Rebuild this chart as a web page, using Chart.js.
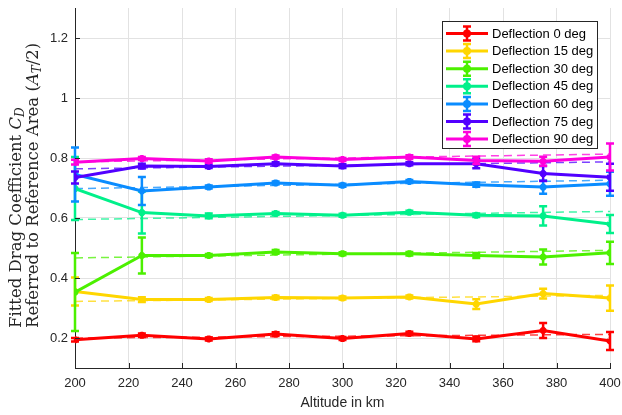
<!DOCTYPE html>
<html>
<head>
<meta charset="utf-8">
<script src="https://cdn.jsdelivr.net/npm/chart.js@4.4.0/dist/chart.umd.min.js"></script>
<style>
  html, body { margin: 0; padding: 0; background: #ffffff; }
  #chart { display: block; }
</style>
</head>
<body>
<canvas id="chart" width="622" height="415"></canvas>
<script>
// altitude (km) and fitted drag coefficient per deflection angle
const altitudes = [200, 225, 250, 275, 300, 325, 350, 375, 400];

const cd0  = [0.194, 0.209, 0.197, 0.213, 0.198, 0.215, 0.197, 0.225, 0.190];
const cd15 = [0.355, 0.328, 0.328, 0.335, 0.333, 0.337, 0.313, 0.348, 0.333];
const cd30 = [0.353, 0.475, 0.475, 0.487, 0.481, 0.481, 0.475, 0.470, 0.484];
const cd45 = [0.698, 0.618, 0.607, 0.615, 0.609, 0.619, 0.609, 0.607, 0.580];
const cd60 = [0.745, 0.690, 0.703, 0.717, 0.709, 0.722, 0.711, 0.703, 0.714];
const cd75 = [0.735, 0.773, 0.772, 0.781, 0.773, 0.781, 0.781, 0.748, 0.736];
const cd90 = [0.786, 0.798, 0.790, 0.803, 0.795, 0.803, 0.792, 0.789, 0.803];

// error bar half-lengths
const err0  = [0.006, 0.006, 0.005, 0.006, 0.005, 0.006, 0.008, 0.025, 0.030];
const err15 = [0.047, 0.008, 0.005, 0.006, 0.005, 0.005, 0.016, 0.016, 0.042];
const err30 = [0.130, 0.060, 0.005, 0.006, 0.005, 0.006, 0.008, 0.025, 0.037];
const err45 = [0.105, 0.070, 0.008, 0.005, 0.005, 0.005, 0.006, 0.032, 0.030];
const err60 = [0.090, 0.047, 0.005, 0.005, 0.005, 0.005, 0.007, 0.022, 0.040];
const err75 = [0.020, 0.008, 0.005, 0.005, 0.006, 0.005, 0.015, 0.025, 0.045];
const err90 = [0.008, 0.005, 0.006, 0.005, 0.005, 0.006, 0.012, 0.015, 0.045];

// dashed fit lines, value at 200 km and at 400 km
const fitStart = [0.200, 0.322, 0.467, 0.595, 0.698, 0.764, 0.787];
const fitEnd   = [0.212, 0.342, 0.492, 0.622, 0.726, 0.787, 0.813];

const seriesNames = ['Deflection 0 deg', 'Deflection 15 deg', 'Deflection 30 deg', 'Deflection 45 deg',
                     'Deflection 60 deg', 'Deflection 75 deg', 'Deflection 90 deg'];
const seriesValues = [cd0, cd15, cd30, cd45, cd60, cd75, cd90];
const seriesErrors = [err0, err15, err30, err45, err60, err75, err90];
const colors = ['#ff0000', '#ffd600', '#4cf000', '#00f08a', '#0a8cff', '#5200ff', '#ff00dc'];

const xTicks = [200, 220, 240, 260, 280, 300, 320, 340, 360, 380, 400];
const yTicks = [0.2, 0.4, 0.6, 0.8, 1.0, 1.2];
const yTickLabels = ['0.2', '0.4', '0.6', '0.8', '1', '1.2'];

const axisColor = '#262626';
const sansFont = '"Liberation Sans", Arial, sans-serif';
const serifFont = '"DejaVu Serif", serif';

function fadeColor(hex, a) {
    const n = parseInt(hex.slice(1), 16);
    return 'rgba(' + (n >> 16) + ',' + ((n >> 8) & 255) + ',' + (n & 255) + ',' + a + ')';
}

const datasets = [];
seriesValues.forEach(function (vals, k) {
    datasets.push({
        label: seriesNames[k],
        data: altitudes.map((a, i) => ({ x: a, y: vals[i] })),
        errors: seriesErrors[k],
        borderColor: colors[k],
        backgroundColor: colors[k],
        borderWidth: 3,
        pointStyle: 'star',
        pointRadius: 3.5,
        pointBorderWidth: 2.5,
        pointBorderColor: colors[k],
        pointBackgroundColor: colors[k],
        tension: 0,
        order: 10 - k
    });
});
fitStart.forEach(function (v, k) {
    datasets.push({
        label: 'fit',
        data: [{ x: altitudes[0], y: v }, { x: altitudes[altitudes.length - 1], y: fitEnd[k] }],
        borderColor: fadeColor(colors[k], 0.75),
        borderWidth: 1.5,
        borderDash: [8, 5],
        pointRadius: 0,
        order: 100
    });
});

// vertical error bars with caps
const errorBars = {
    id: 'errorBars',
    afterDatasetDraw(chart, args) {
        const ds = chart.data.datasets[args.index];
        if (!ds.errors) return;
        const ctx = chart.ctx;
        const y = chart.scales.y;
        ctx.save();
        ctx.strokeStyle = ds.borderColor;
        ctx.lineWidth = 2.5;
        args.meta.data.forEach(function (pt, i) {
            const v = ds.data[i].y, e = ds.errors[i];
            const top = y.getPixelForValue(v + e);
            const bot = y.getPixelForValue(v - e);
            ctx.beginPath();
            ctx.moveTo(pt.x, top); ctx.lineTo(pt.x, bot);
            ctx.moveTo(pt.x - 4, top); ctx.lineTo(pt.x + 4, top);
            ctx.moveTo(pt.x - 4, bot); ctx.lineTo(pt.x + 4, bot);
            ctx.stroke();
        });
        ctx.restore();
    }
};

function drawRich(ctx, parts, x0, y0) {
    let x = x0;
    parts.forEach(function (p) {
        ctx.font = p.font;
        ctx.fillText(p.t, x, y0 + (p.dy || 0));
        x += ctx.measureText(p.t).width;
    });
}

// inward ticks, axis titles and legend box
const decorations = {
    id: 'decorations',
    afterDraw(chart) {
        const ctx = chart.ctx;
        const area = chart.chartArea;
        const xs = chart.scales.x, ys = chart.scales.y;
        ctx.save();

        ctx.strokeStyle = axisColor;
        ctx.lineWidth = 1;
        ctx.beginPath();
        xTicks.forEach(function (t) {
            const px = Math.round(xs.getPixelForValue(t)) + 0.5;
            ctx.moveTo(px, area.bottom); ctx.lineTo(px, area.bottom - 5);
        });
        yTicks.forEach(function (t) {
            const py = Math.round(ys.getPixelForValue(t)) + 0.5;
            ctx.moveTo(area.left, py); ctx.lineTo(area.left + 5, py);
        });
        ctx.stroke();

        ctx.fillStyle = axisColor;
        ctx.textAlign = 'center';
        ctx.textBaseline = 'middle';
        ctx.font = '14px ' + sansFont;
        ctx.fillText('Altitude in km', (area.left + area.right) / 2, 403);

        // y title, two lines, rotated, starting near the bottom
        ctx.save();
        ctx.textAlign = 'left';
        ctx.textBaseline = 'alphabetic';
        ctx.translate(21, 328);
        ctx.rotate(-Math.PI / 2);
        const reg = '16.5px ' + serifFont, ital = 'italic 16.5px ' + serifFont, sub = 'italic 12px ' + serifFont;
        drawRich(ctx, [
            { t: 'Fitted Drag Coefficient ', font: reg },
            { t: 'C', font: ital },
            { t: 'D', font: sub, dy: 3 }
        ], 0, 0);
        drawRich(ctx, [
            { t: 'Referred to Reference Area (', font: reg },
            { t: 'A', font: ital },
            { t: 'T', font: sub, dy: 3 },
            { t: '/2)', font: reg }
        ], 0, 17);
        ctx.restore();

        // legend
        const lx = 442.5, ly = 21.5, lw = 155, lh = 127, rowH = 17.6;
        ctx.fillStyle = '#ffffff';
        ctx.fillRect(lx, ly, lw, lh);
        ctx.strokeStyle = axisColor;
        ctx.lineWidth = 1;
        ctx.strokeRect(lx, ly, lw, lh);
        ctx.font = '13px ' + sansFont;
        ctx.textAlign = 'left';
        ctx.textBaseline = 'middle';
        seriesNames.forEach(function (name, k) {
            const ry = 33.5 + k * rowH;
            const mx = 467;
            ctx.strokeStyle = colors[k];
            ctx.lineWidth = 3;
            ctx.beginPath();
            ctx.moveTo(446, ry); ctx.lineTo(488, ry);
            ctx.stroke();
            ctx.lineWidth = 2.5;
            ctx.beginPath();
            ctx.moveTo(mx, ry - 7); ctx.lineTo(mx, ry + 7);
            ctx.moveTo(mx - 4, ry - 7); ctx.lineTo(mx + 4, ry - 7);
            ctx.moveTo(mx - 4, ry + 7); ctx.lineTo(mx + 4, ry + 7);
            ctx.stroke();
            ctx.fillStyle = colors[k];
            ctx.beginPath();
            ctx.arc(mx, ry, 4, 0, Math.PI * 2);
            ctx.fill();
            ctx.fillStyle = '#000000';
            ctx.fillText(name, 492, ry + 0.5);
        });
        ctx.restore();
    }
};

function noScalePadding(s) {
    s.paddingLeft = 0;
    s.paddingRight = 0;
    s.paddingTop = 0;
    s.paddingBottom = 0;
}

new Chart(document.getElementById('chart'), {
    type: 'line',
    data: { datasets: datasets },
    options: {
        responsive: false,
        animation: false,
        layout: { padding: { top: 8, right: 12, left: 0, bottom: 0 } },
        plugins: { legend: { display: false }, tooltip: { enabled: false } },
        scales: {
            x: {
                type: 'linear',
                min: 200,
                max: 400,
                afterBuildTicks: s => { s.ticks = xTicks.map(v => ({ value: v })); },
                ticks: { color: axisColor, font: { size: 13, family: sansFont }, padding: 8, maxRotation: 0 },
                grid: { color: '#e2e2e2', drawTicks: false },
                border: { color: axisColor, width: 1 },
                afterFit: s => { s.height = 47; noScalePadding(s); }
            },
            y: {
                type: 'linear',
                min: 0.1,
                max: 1.3,
                afterBuildTicks: s => { s.ticks = yTicks.map(v => ({ value: v })); },
                ticks: {
                    color: axisColor,
                    font: { size: 13, family: sansFont },
                    padding: 7,
                    callback: (v, i) => yTickLabels[i]
                },
                grid: { color: '#e2e2e2', drawTicks: false },
                border: { color: axisColor, width: 1 },
                afterFit: s => { s.width = 75; noScalePadding(s); }
            }
        }
    },
    plugins: [errorBars, decorations]
});
</script>
</body>
</html>
